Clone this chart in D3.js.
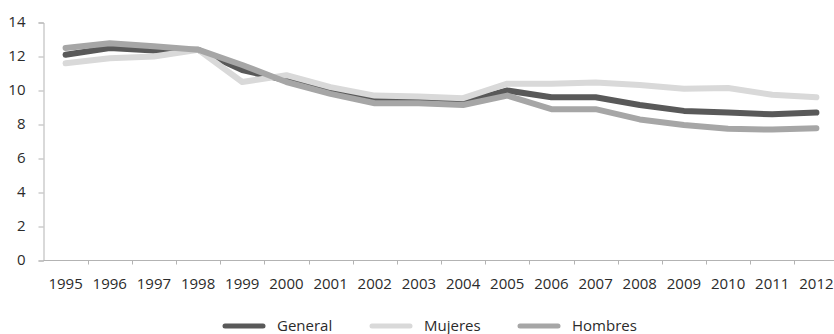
<!DOCTYPE html>
<html>
<head>
<meta charset="utf-8">
<script src="https://cdn.jsdelivr.net/npm/d3@7"></script>
<style>
  html, body { margin: 0; padding: 0; background: #fff; }
  svg { display: block; font-family: "Open Sans", sans-serif; }
</style>
</head>
<body>
<svg id="chart" width="834" height="334"></svg>
<script>
// Tasa anual por año, 1995–2012
const years = ["1995","1996","1997","1998","1999","2000","2001","2002","2003","2004","2005","2006","2007","2008","2009","2010","2011","2012"];
const general = [12.1, 12.5, 12.35, 12.4, 11.2, 10.6, 9.9, 9.4, 9.35, 9.3, 10.0, 9.6, 9.6, 9.15, 8.8, 8.7, 8.6, 8.7];
const mujeres = [11.6, 11.9, 12.0, 12.4, 10.5, 10.9, 10.2, 9.7, 9.65, 9.55, 10.4, 10.4, 10.47, 10.33, 10.1, 10.15, 9.75, 9.6];
const hombres = [12.5, 12.78, 12.6, 12.4, 11.5, 10.5, 9.8, 9.25, 9.25, 9.15, 9.7, 8.9, 8.9, 8.3, 7.97, 7.75, 7.7, 7.78];
const yTicks = [0, 2, 4, 6, 8, 10, 12, 14];

const series = [
  { name: "General", values: general, color: "#595959" },
  { name: "Mujeres", values: mujeres, color: "#d9d9d9" },
  { name: "Hombres", values: hombres, color: "#a6a6a6" }
];

const svg = d3.select("#chart");
const axisColor = "#b3b3b3";
const textColor = "#2b2b2b";
const fontSize = 15;

const x = d3.scaleBand().domain(years).range([43.5, 838.5]);
const y = d3.scaleLinear().domain([0, 14]).range([260.5, 22.5]);

// Y axis
const yAxis = svg.append("g")
  .attr("transform", "translate(43.5,0)")
  .call(d3.axisLeft(y).tickValues(yTicks).tickSize(5).tickPadding(13).tickFormat(d3.format("d")));
yAxis.select(".domain").attr("stroke", axisColor);
yAxis.selectAll(".tick line").attr("stroke", axisColor);
yAxis.selectAll("text").attr("font-size", fontSize).attr("fill", textColor)
  .attr("dy", "0.25em")
  .attr("font-family", "'Open Sans', sans-serif");

// X axis: ticks sit between categories
const xAxis = svg.append("g").attr("transform", "translate(0,260.5)");
xAxis.append("line")
  .attr("x1", 43.5).attr("x2", 834)
  .attr("stroke", axisColor);
xAxis.selectAll("line.tk")
  .data(years.slice(1))
  .join("line")
  .attr("class", "tk")
  .attr("x1", d => Math.round(x(d)) + 0.5)
  .attr("x2", d => Math.round(x(d)) + 0.5)
  .attr("y1", 0).attr("y2", 4)
  .attr("stroke", axisColor);
xAxis.selectAll("text")
  .data(years)
  .join("text")
  .attr("x", d => x(d) + x.bandwidth() / 2)
  .attr("y", 28.5)
  .attr("text-anchor", "middle")
  .attr("font-size", fontSize)
  .attr("fill", textColor)
  .text(d => d);

// Lines
const line = d3.line()
  .x((d, i) => x(years[i]) + x.bandwidth() / 2)
  .y(d => y(d));

svg.append("g").selectAll("path")
  .data(series)
  .join("path")
  .attr("d", d => line(d.values))
  .attr("fill", "none")
  .attr("stroke", d => d.color)
  .attr("stroke-width", 6)
  .attr("stroke-linejoin", "round")
  .attr("stroke-linecap", "round");

// Legend
const legendX = [223, 370, 518];
const legend = svg.append("g");
const item = legend.selectAll("g")
  .data(series)
  .join("g")
  .attr("transform", (d, i) => `translate(${legendX[i]},326)`);
item.append("line")
  .attr("x1", 2).attr("x2", 40)
  .attr("stroke", d => d.color)
  .attr("stroke-width", 5)
  .attr("stroke-linecap", "round");
item.append("text")
  .attr("x", 54)
  .attr("y", 4.5)
  .attr("font-size", fontSize)
  .attr("fill", textColor)
  .text(d => d.name);
</script>
</body>
</html>
